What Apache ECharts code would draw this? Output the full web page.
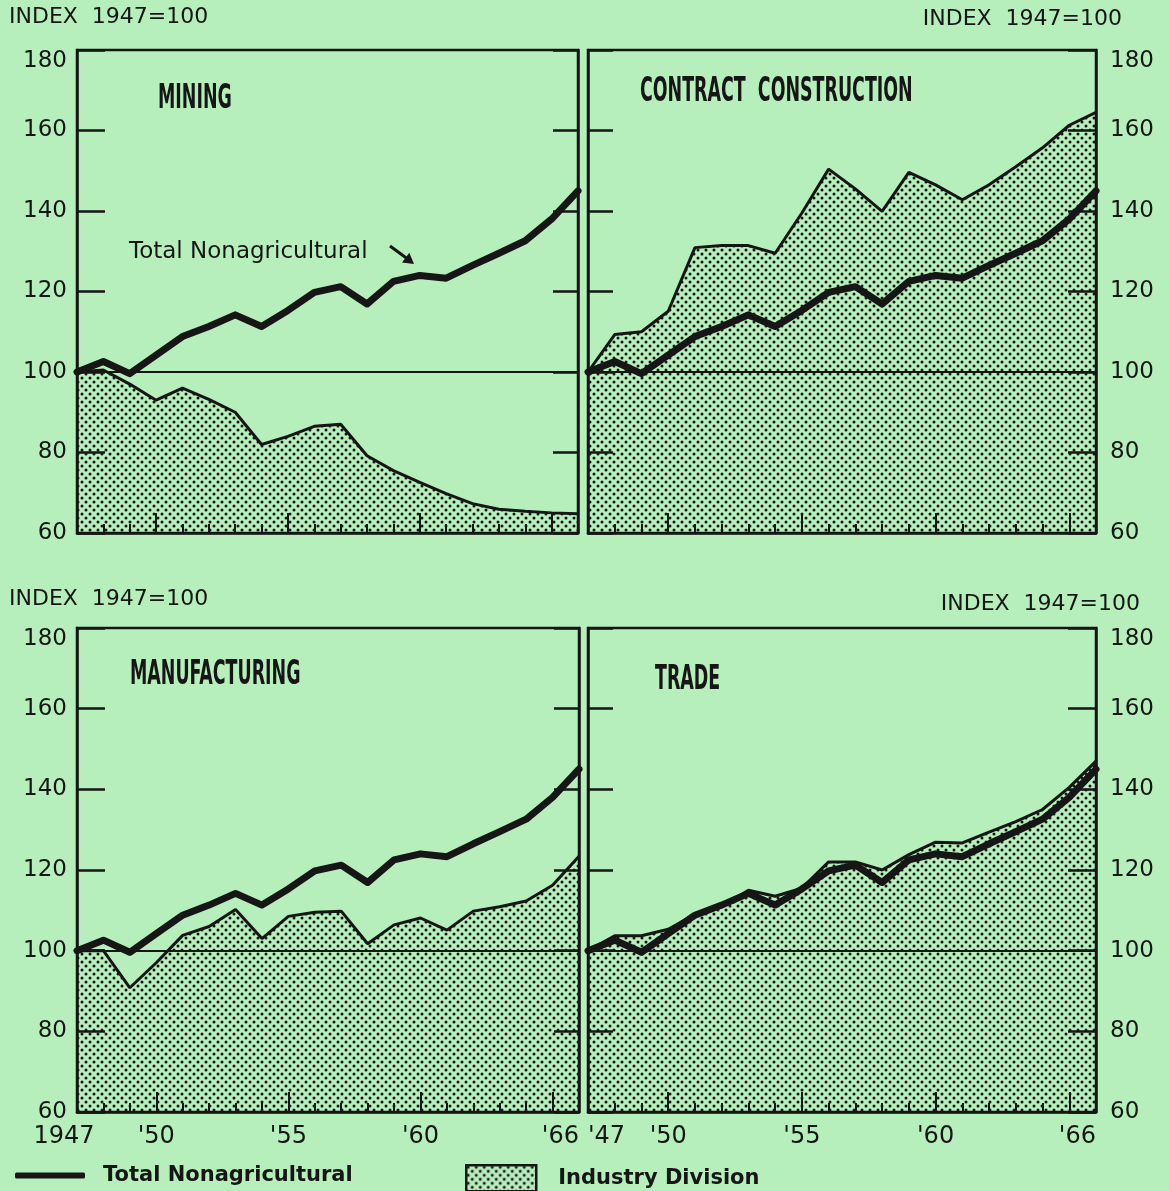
<!DOCTYPE html>
<html>
<head>
<meta charset="utf-8">
<script src="https://cdn.jsdelivr.net/npm/echarts@6/dist/echarts.min.js"></script>
<style>
html, body { margin: 0; padding: 0; background: #b6efbb; }
#chart { width: 1169px; height: 1191px; }
</style>
</head>
<body>
<div id="chart"></div>
<script>
// years and index values (1947=100)
var years = [1947, 1948, 1949, 1950, 1951, 1952, 1953, 1954, 1955, 1956,
             1957, 1958, 1959, 1960, 1961, 1962, 1963, 1964, 1965, 1966];
var totalNonag = [100, 102.6, 99.6, 104.2, 108.8, 111.3, 114.2, 111.3, 115.3, 119.8,
                  121.2, 116.9, 122.5, 124, 123.3, 126.5, 129.5, 132.6, 138, 145];
var mining = [100, 100.5, 97, 93, 96, 93.2, 90, 82, 84, 86.5,
              87, 79.2, 75.5, 72.6, 69.8, 67.3, 65.9, 65.4, 65, 64.8];
var construction = [100, 109.3, 110, 115.1, 130.9, 131.4, 131.4, 129.5, 139.5, 150.4,
                    145.5, 139.9, 149.6, 146.5, 142.8, 146.5, 151, 155.7, 161.3, 164.5];
var manufacturing = [100, 100, 90.8, 97, 103.8, 106, 110.2, 103, 108.5, 109.5,
                     109.8, 101.7, 106.4, 108.1, 105.1, 109.8, 110.9, 112.3, 116.2, 123.4];
var trade = [100, 103.7, 103.7, 105.3, 109, 110.8, 115, 113.5, 115.5, 122,
             122, 120, 123.8, 126.9, 126.7, 129.4, 132, 135, 140.5, 147];

var xLabelYears = [1947, 1950, 1955, 1960, 1966];
var bigTickYears = [1950, 1955, 1960, 1965];

var ink = '#161616';
var font = 'DejaVu Sans';

// halftone dots for the industry area
function makeDots() {
    var c = document.createElement('canvas');
    c.width = 8; c.height = 8;
    var ctx = c.getContext('2d');
    ctx.fillStyle = ink;
    [[2, 2], [6, 6]].forEach(function (p) {
        ctx.beginPath();
        ctx.arc(p[0], p[1], 1.5, 0, Math.PI * 2);
        ctx.fill();
    });
    return c;
}
var dots = { image: makeDots(), repeat: 'repeat' };

function pairs(vals) {
    return years.map(function (y, i) { return [y, vals[i]]; });
}

var panels = [
    { title: 'MINING', data: mining, side: 'left', xLab: null,
      grid: { left: 77, top: 50, width: 501, height: 483 }, tx: 158, ty: 99 },
    { title: 'CONTRACT  CONSTRUCTION', data: construction, side: 'right', xLab: null,
      grid: { left: 588, top: 50, width: 508, height: 483 }, tx: 640, ty: 92 },
    { title: 'MANUFACTURING', data: manufacturing, side: 'left', xLab: 'left',
      grid: { left: 77, top: 628, width: 502, height: 484 }, tx: 130, ty: 675 },
    { title: 'TRADE', data: trade, side: 'right', xLab: 'right',
      grid: { left: 588, top: 628, width: 508, height: 484 }, tx: 655, ty: 680 }
];

var grids = [], xAxes = [], yAxes = [], series = [], graphics = [];

panels.forEach(function (p, i) {
    grids.push(Object.assign({ show: true, borderColor: ink, borderWidth: 2.5,
        backgroundColor: 'transparent' }, p.grid));

    var lab = { show: false };
    if (p.xLab) {
        lab = {
            show: true, customValues: xLabelYears, color: ink, fontSize: 24,
            fontFamily: font, margin: 13,
            alignMaxLabel: 'right',
            formatter: function (v) {
                if (v === 1947 && p.xLab === 'left') return '{a|1947}';
                return "'" + String(v).slice(2);
            },
            rich: { a: { fontSize: 24, fontFamily: font, color: ink, padding: [0, 26, 0, 0] } }
        };
        if (p.xLab === 'right') lab.alignMinLabel = 'left';
    }
    xAxes.push({
        gridIndex: i, type: 'value', min: 1947, max: 1966, interval: 1,
        position: 'bottom', z: 3,
        axisLine: { show: true, onZero: false, lineStyle: { color: ink, width: 2.5 } },
        axisTick: { show: true, inside: true, length: 9, customValues: years,
            lineStyle: { color: ink, width: 2 } },
        splitLine: { show: false },
        axisLabel: lab
    });
    xAxes.push({
        gridIndex: i, type: 'value', min: 1947, max: 1966,
        position: 'bottom', z: 3,
        axisLine: { show: false, onZero: false },
        axisTick: { show: true, inside: true, length: 20, customValues: bigTickYears,
            lineStyle: { color: ink, width: 2 } },
        splitLine: { show: false },
        axisLabel: { show: false }
    });

    var other = p.side === 'left' ? 'right' : 'left';
    yAxes.push({
        gridIndex: i, type: 'value', min: 60, max: 180, interval: 20,
        position: p.side, z: 3,
        axisLine: { show: true, onZero: false, lineStyle: { color: ink, width: 2.5 } },
        axisTick: { show: true, inside: true, length: 28, lineStyle: { color: ink, width: 2.5 } },
        splitLine: { show: false },
        axisLabel: { color: ink, fontSize: 23, fontFamily: font,
            margin: p.side === 'left' ? 10 : 14, verticalAlignMaxLabel: 'top' }
    });
    yAxes.push({
        gridIndex: i, type: 'value', min: 60, max: 180, interval: 20,
        position: other, z: 3,
        axisLine: { show: true, onZero: false, lineStyle: { color: ink, width: 2.5 } },
        axisTick: { show: true, inside: true, length: 25, lineStyle: { color: ink, width: 2.5 } },
        splitLine: { show: false },
        axisLabel: { show: false }
    });

    series.push({
        type: 'line', name: 'Industry Division',
        xAxisIndex: 2 * i, yAxisIndex: 2 * i,
        data: pairs(p.data), symbol: 'none', z: 2,
        lineStyle: { color: ink, width: 3 },
        itemStyle: { color: ink },
        areaStyle: { color: dots, origin: 'start', opacity: 1 },
        markLine: {
            silent: true, symbol: ['none', 'none'], label: { show: false },
            lineStyle: { color: ink, width: 2, type: 'solid' },
            data: [{ yAxis: 100 }]
        }
    });
    series.push({
        type: 'line', name: 'Total Nonagricultural',
        xAxisIndex: 2 * i, yAxisIndex: 2 * i,
        data: pairs(totalNonag), symbol: 'none', z: 4,
        lineStyle: { color: ink, width: 7, cap: 'round', join: 'round' },
        itemStyle: { color: ink }
    });

    // panel name, set in a narrow heavy face
    graphics.push({
        type: 'text', x: p.tx, y: p.ty, scaleX: 0.57, z: 10,
        style: { text: p.title, fill: ink, fontSize: 34, fontWeight: 'bold',
            fontFamily: 'DejaVu Sans Condensed, DejaVu Sans',
            textAlign: 'left', textVerticalAlign: 'middle' }
    });
});

// "Total Nonagricultural" note with arrow in mining panel
graphics.push({
    type: 'text', x: 129, y: 252, z: 10,
    style: { text: 'Total Nonagricultural', fill: ink, fontSize: 23, fontFamily: font,
        textAlign: 'left', textVerticalAlign: 'middle' }
});
graphics.push({
    type: 'line', z: 10,
    shape: { x1: 390, y1: 246, x2: 407, y2: 258.5 },
    style: { stroke: ink, lineWidth: 3 }
});
graphics.push({
    type: 'polygon', z: 10,
    shape: { points: [[414, 264], [402, 262.5], [409.3, 252.8]] },
    style: { fill: ink }
});

function indexTitle(pos) {
    return Object.assign({
        text: 'INDEX  1947=100', padding: 0,
        textStyle: { fontSize: 22, fontWeight: 'normal', color: ink, fontFamily: font }
    }, pos);
}

var chart = echarts.init(document.getElementById('chart'), null, { renderer: 'canvas' });
chart.setOption({
    backgroundColor: '#b6efbb',
    animation: false,
    title: [
        indexTitle({ left: 9, top: 6 }),
        indexTitle({ right: 47, top: 8 }),
        indexTitle({ left: 9, top: 588 }),
        indexTitle({ right: 29, top: 593 })
    ],
    legend: [{
        left: 15, top: 1165, padding: 0, selectedMode: false,
        itemWidth: 70, itemHeight: 6,
        data: [{ name: 'Total Nonagricultural', icon: 'roundRect',
            itemStyle: { color: ink, borderWidth: 0 } }],
        textStyle: { color: ink, fontSize: 21, fontWeight: 'bold', fontFamily: font,
            padding: [0, 0, 0, 13] }
    }, {
        left: 465, top: 1164, padding: 0, selectedMode: false,
        itemWidth: 70, itemHeight: 26,
        data: [{ name: 'Industry Division', icon: 'rect',
            itemStyle: { color: dots, borderColor: ink, borderWidth: 2.5 } }],
        textStyle: { color: ink, fontSize: 21, fontWeight: 'bold', fontFamily: font,
            padding: [0, 0, 0, 17] }
    }],
    grid: grids,
    xAxis: xAxes,
    yAxis: yAxes,
    series: series,
    graphic: graphics
});
</script>
</body>
</html>
